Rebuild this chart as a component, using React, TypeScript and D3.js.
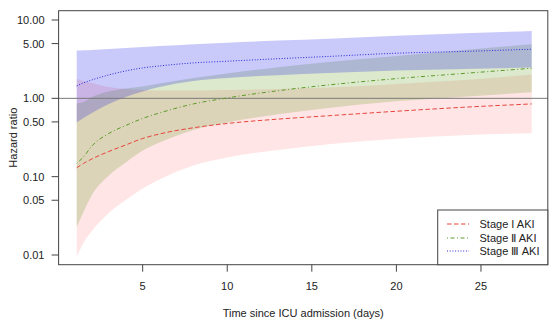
import React from 'react';
import * as d3 from 'd3';

// Time since ICU admission (days) at which values were read
const days = [1.1, 1.5, 2, 3, 4, 5, 6, 8, 10, 13, 16, 20, 24, 28];

// Stage I AKI
const stage1HR = [0.1302, 0.1475, 0.1683, 0.2098, 0.2541, 0.3075, 0.351, 0.4211, 0.4779, 0.5426, 0.5996, 0.6842, 0.7698, 0.8484];
const stage1Lower = [0.00951, 0.01423, 0.02025, 0.03439, 0.0504, 0.07069, 0.09183, 0.139, 0.1759, 0.2193, 0.2594, 0.3048, 0.3388, 0.3583];
const stage1Upper = [1.769, 1.668, 1.573, 1.398, 1.319, 1.281, 1.262, 1.262, 1.281, 1.319, 1.378, 1.527, 1.718, 2.008];

// Stage II AKI
const stage2HR = [0.1475, 0.1785, 0.2467, 0.3562, 0.4507, 0.5538, 0.651, 0.8484, 1.012, 1.251, 1.483, 1.785, 2.08, 2.423];
const stage2Lower = [0.02279, 0.03541, 0.05839, 0.1036, 0.1519, 0.2161, 0.2734, 0.3948, 0.4922, 0.6263, 0.7543, 0.9156, 1.048, 1.196];
const stage2Upper = [0.8658, 0.8995, 1.042, 1.225, 1.338, 1.419, 1.55, 1.822, 2.08, 2.496, 2.917, 3.479, 4.127, 4.909];

// Stage III AKI
const stage3HR = [1.44, 1.573, 1.718, 1.991, 2.239, 2.445, 2.593, 2.833, 2.978, 3.204, 3.428, 3.767, 3.972, 4.238];
const stage3Lower = [0.4952, 0.562, 0.651, 0.8484, 1.042, 1.225, 1.398, 1.668, 1.822, 1.972, 2.11, 2.272, 2.374, 2.467];
const stage3Upper = [4.067, 4.102, 4.15, 4.262, 4.376, 4.507, 4.642, 4.909, 5.131, 5.457, 5.754, 6.302, 6.782, 7.257];

const seriesNames = ['Stage I AKI', 'Stage \u2161 AKI', 'Stage \u2162 AKI'];
const yTicks = [0.01, 0.05, 0.1, 0.5, 1, 5, 10];
const xTicks = [5, 10, 15, 20, 25];
const referenceHR = 1;

const W = 549;
const H = 320;
const plotLeft = 58.6;
const plotRight = 547.8;
const plotTop = 10.7;
const plotBottom = 264.7;

const FONT = '"Liberation Sans", Arial, sans-serif';
const TEXT = '#222';

export default function App() {
  const x = d3.scaleLinear().domain([0.03, 28.95]).range([plotLeft, plotRight]);
  const y = d3.scaleLog().domain([0.01, 10]).range([255, 20]);

  const series = [
    { name: seriesNames[0], hr: stage1HR, lo: stage1Lower, hi: stage1Upper, fill: 'rgba(255,0,0,0.1)', stroke: '#E8453C', dash: '4.5,2.5' },
    { name: seriesNames[1], hr: stage2HR, lo: stage2Lower, hi: stage2Upper, fill: 'rgba(80,145,5,0.2)', stroke: '#5A9A28', dash: '1,2.5,4,2.5' },
    { name: seriesNames[2], hr: stage3HR, lo: stage3Lower, hi: stage3Upper, fill: 'rgba(0,0,230,0.21)', stroke: '#2A2AD8', dash: '1,1.7' },
  ];

  const area = d3
    .area<number>()
    .x((_, i) => x(days[i]))
    .curve(d3.curveMonotoneX);
  const line = d3
    .line<number>()
    .x((_, i) => x(days[i]))
    .curve(d3.curveMonotoneX);

  const legendLeft = 437.7;
  const legendTop = 210;
  const legendRows = [224, 238, 251];

  return (
    <svg width={W} height={H} style={{ position: 'absolute', left: 0, top: 0, background: '#fff' }}>
      {/* bands */}
      {series.map((s) => (
        <path
          key={'band' + s.name}
          d={area.y0((_, i) => y(s.lo[i])).y1((_, i) => y(s.hi[i]))(s.hr) || ''}
          fill={s.fill}
          stroke="none"
        />
      ))}
      {/* reference line */}
      <line x1={plotLeft} x2={plotRight} y1={y(referenceHR)} y2={y(referenceHR)} stroke="#7a7a7a" strokeWidth={1} />
      {/* center lines */}
      {series.map((s) => (
        <path
          key={'line' + s.name}
          d={line.y((d) => y(d))(s.hr) || ''}
          fill="none"
          stroke={s.stroke}
          strokeWidth={1}
          strokeDasharray={s.dash}
        />
      ))}
      {/* plot frame */}
      <rect x={plotLeft} y={plotTop} width={plotRight - plotLeft} height={plotBottom - plotTop} fill="none" stroke="#444" strokeWidth={1} />
      {/* y axis */}
      {yTicks.map((t) => (
        <g key={'yt' + t}>
          <line x1={plotLeft - 7} x2={plotLeft} y1={y(t)} y2={y(t)} stroke="#444" />
          <text x={44.5} y={y(t) + 4} textAnchor="end" fontFamily={FONT} fontSize={11} fill={TEXT}>
            {t.toFixed(2)}
          </text>
        </g>
      ))}
      {/* x axis */}
      {xTicks.map((t) => (
        <g key={'xt' + t}>
          <line x1={x(t)} x2={x(t)} y1={plotBottom} y2={plotBottom + 7} stroke="#444" />
          <text x={x(t)} y={289.5} textAnchor="middle" fontFamily={FONT} fontSize={11} fill={TEXT}>
            {t}
          </text>
        </g>
      ))}
      <text x={(plotLeft + plotRight) / 2} y={316.5} textAnchor="middle" fontFamily={FONT} fontSize={11} fill={TEXT}>
        Time since ICU admission (days)
      </text>
      <text
        transform={`translate(16.5, ${(plotTop + plotBottom) / 2}) rotate(-90)`}
        textAnchor="middle"
        fontFamily={FONT}
        fontSize={11}
        fill={TEXT}
      >
        Hazard ratio
      </text>
      {/* legend */}
      <rect x={legendLeft} y={legendTop} width={plotRight - legendLeft} height={plotBottom - legendTop} fill="#fff" stroke="#444" strokeWidth={1} />
      {series.map((s, i) => (
        <g key={'lg' + s.name}>
          <line x1={447} x2={469} y1={legendRows[i]} y2={legendRows[i]} stroke={s.stroke} strokeWidth={1} strokeDasharray={s.dash} />
          <text x={479.5} y={legendRows[i] + 4} fontFamily={FONT} fontSize={11} fill={TEXT}>
            {s.name}
          </text>
        </g>
      ))}
    </svg>
  );
}
